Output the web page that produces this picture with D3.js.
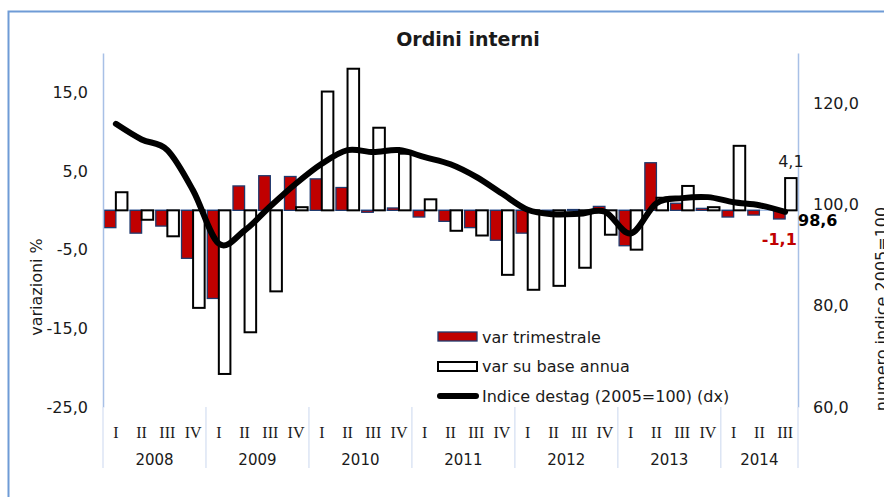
<!DOCTYPE html>
<html>
<head>
<meta charset="utf-8">
<script src="https://cdn.jsdelivr.net/npm/d3@7"></script>
<style>
  body { margin: 0; background: #fff; }
  svg text { font-family: "DejaVu Sans", Verdana, sans-serif; fill: #1a1a1a; }
  .qlab text { font-family: "Liberation Serif", "Times New Roman", serif; }
</style>
</head>
<body>
<div id="chart"></div>
<script>
// quarters 2008 I -> 2014 III
const years = ['2008', '2009', '2010', '2011', '2012', '2013', '2014']
const quarterNames = ['I', 'II', 'III', 'IV']
const quarters = years.flatMap(y => (y === '2014' ? quarterNames.slice(0, 3) : quarterNames).map(q => y + ' ' + q))

// var trimestrale (%)
const varTrim = [-2.2, -2.9, -2.0, -6.1, -11.2, 3.1, 4.4, 4.3, 4.0, 2.9, -0.25, 0.3,
  -0.85, -1.4, -2.2, -3.8, -2.9, -0.1, 0.1, 0.5, -4.5, 6.05, 0.9, 0.25, -0.85, -0.6, -1.1]
// var su base annua (%)
const varAnnua = [2.3, -1.2, -3.3, -12.4, -20.8, -15.5, -10.3, 0.4, 15.1, 18.0, 10.5, 7.2,
  1.4, -2.6, -3.2, -8.2, -10.1, -9.6, -7.3, -3.1, -5.0, 1.6, 3.1, 0.4, 8.2, null, 4.1]
// indice destagionalizzato 2005=100 (asse dx)
const indice = [116.0, 112.9, 110.8, 102.8, 92.3, 94.9, 99.7, 104.2, 108.1, 110.8, 110.4, 110.8,
  109.4, 108.0, 105.5, 102.2, 99.0, 98.1, 98.2, 98.6, 94.3, 100.3, 101.3, 101.5, 100.5, 99.9, 98.6]

const leftTicks = [-25, -15, -5, 5, 15]
const rightTicks = [60, 80, 100, 120]

const width = 884, height = 497
const plotLeft = 103, plotRight = 798, plotTop = 53, plotBottom = 407
const axisBlue = '#a8c0e6', sepBlue = '#dce5f4'

// italian number format, plain hyphen for negatives
const it = d3.formatLocale({ decimal: ',', thousands: '.', grouping: [3], currency: ['', ' €'], minus: '-' })
const fmt = it.format('.1f')

let svg = d3.select('#chart').append('svg')
.attr('width', width)
.attr('height', height)

// chart border
svg.append('rect')
.attr('x', 8.5).attr('y', 11.5)
.attr('width', 930).attr('height', 520)
.attr('fill', '#fff')
.attr('stroke', '#6f9bd6')
.attr('stroke-width', 2)

let x = d3.scaleBand()
.domain(quarters)
.range([plotLeft, plotRight])

let xs = d3.scaleBand()
.domain(['trim', 'annua'])
.range([1.3, x.bandwidth() - 1.3])

let yL = d3.scaleLinear().domain([-25, 20]).range([plotBottom, plotTop])
let yR = d3.scaleLinear().domain([60, 130]).range([plotBottom, plotTop])

svg.append('text')
.attr('x', 468).attr('y', 46)
.attr('text-anchor', 'middle')
.style('font-weight', 'bold')
.style('font-size', '19px')
.text('Ordini interni')

// zero line
svg.append('line')
.attr('x1', plotLeft).attr('x2', plotRight)
.attr('y1', yL(0)).attr('y2', yL(0))
.attr('stroke', axisBlue)
.attr('stroke-width', 1.5)

let bars = svg.append('g')

bars.selectAll('rect.trim')
.data(quarters)
.enter()
.append('rect')
.attr('class', 'trim')
.attr('x', d => x(d) + xs('trim'))
.attr('width', xs.bandwidth())
.attr('y', (d, i) => yL(Math.max(0, varTrim[i])))
.attr('height', (d, i) => Math.abs(yL(varTrim[i]) - yL(0)))
.attr('fill', '#c00000')
.attr('stroke', '#1f3a6e')
.attr('stroke-width', 1.3)

bars.selectAll('rect.annua')
.data(quarters.filter((d, i) => varAnnua[i] !== null))
.enter()
.append('rect')
.attr('class', 'annua')
.attr('x', d => x(d) + xs('annua'))
.attr('width', xs.bandwidth())
.attr('y', d => yL(Math.max(0, varAnnua[quarters.indexOf(d)])))
.attr('height', d => Math.abs(yL(varAnnua[quarters.indexOf(d)]) - yL(0)))
.attr('fill', '#fff')
.attr('stroke', '#000')
.attr('stroke-width', 2)

let line = d3.line()
.x((d, i) => x(quarters[i]) + x.bandwidth() / 2)
.y(d => yR(d))
.curve(d3.curveCardinal)

svg.append('path')
.datum(indice)
.attr('d', line)
.attr('fill', 'none')
.attr('stroke', '#000')
.attr('stroke-width', 6)
.attr('stroke-linecap', 'round')
.attr('stroke-linejoin', 'round')

// axes
let yAxisL = svg.append('g')
.attr('transform', `translate(${plotLeft},0)`)
.call(d3.axisLeft(yL).tickValues(leftTicks).tickSize(0).tickPadding(15).tickFormat(fmt))

let yAxisR = svg.append('g')
.attr('transform', `translate(${plotRight},0)`)
.call(d3.axisRight(yR).tickValues(rightTicks).tickSize(0).tickPadding(15).tickFormat(fmt))

;[yAxisL, yAxisR].forEach(a => {
	a.select('.domain').attr('stroke', axisBlue).attr('stroke-width', 1.5)
	a.selectAll('text').style('font-size', '16px').attr('fill', '#1a1a1a')
})

// quarter labels
let qAxis = svg.append('g')
.attr('class', 'qlab')
.attr('transform', `translate(0,${plotBottom})`)
.call(d3.axisBottom(x).tickSize(0).tickPadding(20).tickFormat(d => d.split(' ')[1]))

qAxis.select('.domain').remove()
qAxis.selectAll('text').style('font-size', '16px').attr('fill', '#1a1a1a')

// year labels and separators
let yearGroups = years.map(y => {
	let qs = quarters.filter(q => q.startsWith(y))
	return { year: y, x0: x(qs[0]), x1: x(qs[qs.length - 1]) + x.bandwidth() }
})

svg.append('g').selectAll('line')
.data(yearGroups.map(g => g.x0).concat([plotRight]))
.enter()
.append('line')
.attr('x1', d => d).attr('x2', d => d)
.attr('y1', plotBottom).attr('y2', 468)
.attr('stroke', sepBlue)
.attr('stroke-width', 1.5)

svg.append('g').selectAll('text')
.data(yearGroups)
.enter()
.append('text')
.attr('x', d => (d.x0 + d.x1) / 2)
.attr('y', 465)
.attr('text-anchor', 'middle')
.style('font-size', '15px')
.text(d => d.year)

// axis titles
svg.append('text')
.attr('transform', 'translate(42,287) rotate(-90)')
.attr('text-anchor', 'middle')
.style('font-size', '16px')
.text('variazioni %')

svg.append('text')
.attr('transform', 'translate(887,309) rotate(-90)')
.attr('text-anchor', 'middle')
.style('font-size', '16px')
.text('numero indice 2005=100')

// data labels for the last quarter
let last = quarters.length - 1
let lastQ = quarters[last]

svg.append('text')
.attr('x', x(lastQ) + xs('annua') + xs.bandwidth() / 2)
.attr('y', yL(varAnnua[last]) - 11)
.attr('text-anchor', 'middle')
.style('font-size', '16px')
.text(fmt(varAnnua[last]))

svg.append('text')
.attr('x', x(lastQ) + xs('trim') + xs.bandwidth() / 2)
.attr('y', yL(varTrim[last]) + 26)
.attr('text-anchor', 'middle')
.style('font-size', '16px')
.style('font-weight', 'bold')
.style('fill', '#c00000')
.text(fmt(varTrim[last]))

svg.append('text')
.attr('x', plotRight)
.attr('y', yR(indice[last]) + 14)
.style('font-size', '16px')
.style('font-weight', 'bold')
.style('fill', '#000')
.text(fmt(indice[last]))

// legend
let legend = svg.append('g').attr('transform', 'translate(438,0)')

legend.append('rect')
.attr('x', 0).attr('y', 332).attr('width', 39).attr('height', 9)
.attr('fill', '#c00000').attr('stroke', '#1f3a6e').attr('stroke-width', 1.3)

legend.append('rect')
.attr('x', 0).attr('y', 362).attr('width', 39).attr('height', 9)
.attr('fill', '#fff').attr('stroke', '#000').attr('stroke-width', 2)

legend.append('line')
.attr('x1', 2).attr('x2', 38).attr('y1', 396).attr('y2', 396)
.attr('stroke', '#000').attr('stroke-width', 6).attr('stroke-linecap', 'round')

legend.selectAll('text.lg')
.data(['var trimestrale', 'var su base annua', 'Indice destag (2005=100) (dx)'])
.enter()
.append('text')
.attr('class', 'lg')
.attr('x', 44)
.attr('y', (d, i) => 337 + i * 29.5)
.attr('dy', '0.35em')
.style('font-size', '16px')
.text(d => d)
</script>
</body>
</html>
